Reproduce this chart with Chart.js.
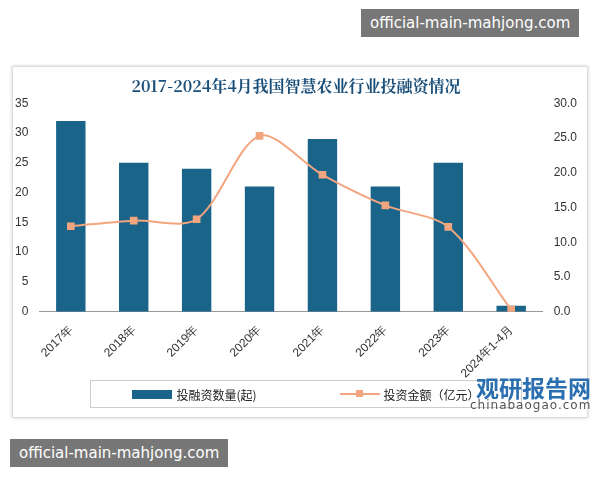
<!DOCTYPE html>
<html><head><meta charset="utf-8">
<script src="https://cdn.jsdelivr.net/npm/chart.js@4"></script>
<style>
body{margin:0;width:600px;height:480px;background:#fff;position:relative;font-family:"Noto Sans CJK SC",sans-serif;overflow:hidden}
#frame{position:absolute;left:12px;top:66px;width:574px;height:350px;border:1px solid #ddd;box-shadow:0 0 3px #ccc}
#wrap{position:absolute;left:12px;top:66px;width:576px;height:318px}
.wm{position:absolute;background:#777;color:#fff;font-size:15px;padding:5px 9px;font-family:"DejaVu Sans",sans-serif;white-space:nowrap}
#legend{position:absolute;left:90px;top:380px;width:430px;height:26px;border:1px solid #ccc;font-size:12px;display:flex;align-items:center;justify-content:space-around;color:#222}
.lg{display:flex;align-items:center;gap:4px}
#logo{position:absolute;left:476px;top:370px;color:#2b6fb0;font-size:23px;font-weight:bold}
#logo2{position:absolute;left:470px;top:398px;color:#555;font-size:12px;font-family:"DejaVu Sans",sans-serif;letter-spacing:1px}
</style></head><body>
<div id="frame"></div>
<div id="wrap"><canvas id="c"></canvas></div>
<div id="legend">
 <div class="lg"><span style="display:inline-block;width:40px;height:9px;background:#1b6489"></span>投融资数量(起)</div>
 <div class="lg"><span style="position:relative;display:inline-block;width:40px;height:2px;background:#f2a57e"><span style="position:absolute;left:16px;top:-3px;width:7px;height:7px;background:#f2a57e"></span></span>投资金额（亿元）</div>
</div>
<div id="logo">观研报告网</div>
<div id="logo2">chinabaogao.com</div>
<div class="wm" style="left:361px;top:9px">official-main-mahjong.com</div>
<div class="wm" style="left:10px;top:439px">official-main-mahjong.com</div>
<script>
const categories = ['2017年','2018年','2019年','2020年','2021年','2022年','2023年','2024年1-4月'];
const dealCount = [32, 25, 24, 21, 29, 21, 25, 1];
const amount = [12.3, 13.1, 13.3, 25.3, 19.7, 15.3, 12.2, 0.3];

new Chart(document.getElementById('c'), {
  data: {
    labels: categories,
    datasets: [
      { type: 'line', label: '投资金额（亿元）', data: amount, yAxisID: 'y1',
        borderColor: '#f2a57e', backgroundColor: '#f2a57e', borderWidth: 2,
        pointStyle: 'rect', pointRadius: 4, tension: 0.3 },
      { type: 'bar', label: '投融资数量(起)', data: dealCount, yAxisID: 'y',
        backgroundColor: '#1b6489', categoryPercentage: 0.85, barPercentage: 0.55 }
    ]
  },
  options: {
    responsive: true, maintainAspectRatio: false, animation: false,
    layout: { padding: { left: 0, right: 8, top: 2 } },
    plugins: {
      legend: { display: false },
      title: { display: true, text: '2017-2024年4月我国智慧农业行业投融资情况', color: '#1a4f7a',
        font: { size: 16, weight: 'bold', family: 'Noto Serif CJK SC, serif' }, padding: { top: 8, bottom: 8 } }
    },
    scales: {
      x: { grid: { display: false }, border: { color: '#999' },
        ticks: { color: '#333', maxRotation: 45, minRotation: 45, font: { size: 12 } } },
      y: { min: 0, max: 35, ticks: { stepSize: 5, color: '#333', font: { size: 12 } },
        grid: { display: false }, border: { display: false } },
      y1: { position: 'right', min: 0, max: 30, grid: { display: false }, border: { display: false },
        ticks: { stepSize: 5, color: '#333', font: { size: 12 }, callback: v => v.toFixed(1) } }
    }
  }
});
</script>
</body></html>
